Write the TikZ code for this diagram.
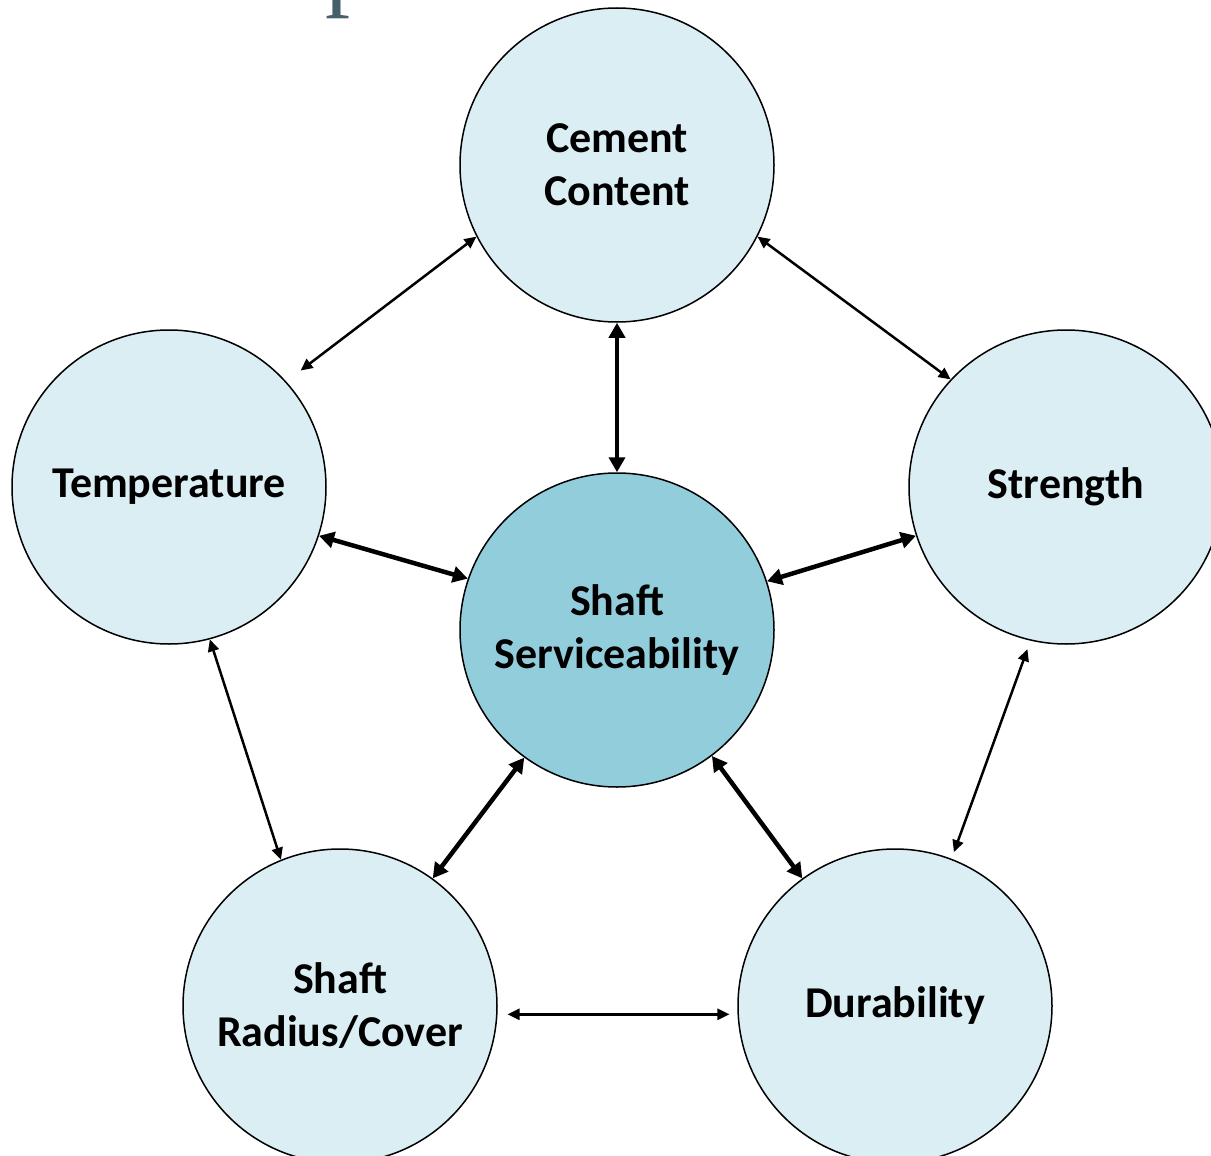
\documentclass[tikz,border=0pt]{standalone}
\usepackage{fontspec}
\setmainfont{Carlito}
\newfontfamily\titlefont{Liberation Serif}
\usetikzlibrary{arrows.meta}
\definecolor{lightblue}{HTML}{DAEEF3}
\definecolor{midblue}{HTML}{92CDDC}
\definecolor{slate}{HTML}{455F6B}
\begin{document}
\begin{tikzpicture}[x=1pt, y=-1pt,
        topic/.style={circle, draw, line width=1.5pt, minimum size=314pt, inner sep=0pt, align=center,
                      fill=lightblue, font=\fontsize{44}{53}\selectfont\bfseries},
        thin link/.style={{Triangle[length=12pt,width=11pt]}-{Triangle[length=12pt,width=11pt]}, line width=2.5pt},
        thick link/.style={{Triangle[length=15pt,width=16pt]}-{Triangle[length=15pt,width=16pt]}, line width=4.5pt}]
        \useasboundingbox (0,0) rectangle (1211,1156);

        \node (P) at (325,19) [anchor=south west, inner sep=0pt, text=slate, font=\fontsize{100}{100}\selectfont\titlefont] {p};

        \node (C) at ( 617, 165) [topic] {Cement\\Content};
        \node (T) at ( 169, 487) [topic] {Temperature};
        \node (S) at (1066, 487) [topic] {Strength};
        \node (M) at ( 617, 630) [topic, fill=midblue] {Shaft\\Serviceability};
        \node (R) at ( 340,1006) [topic] {Shaft\\Radius/Cover};
        \node (D) at ( 895,1006) [topic] {Durability};

        % C <-> T
        \draw[thin link, shorten >=18pt] (C.207) -- (T.42);
        % C <-> S
        \draw[thin link] (C.-27) -- (S.137);
        % C <-> M
        \draw[thick link] (C.south) -- (M.north);
        % T <-> M
        \draw[thick link] (T.-18) -- (M.161);
        % S <-> M
        \draw[thick link] (S.198) -- (M.18);
        % T <-> R
        \draw[thin link] (T.-75) -- (R.112);
        % S <-> D
        \draw[thin link, shorten <=9pt, shorten >=7pt] (S.-103) -- (D.69);
        % M <-> R
        \draw[thick link] (M.234) -- (R.54);
        % M <-> D
        \draw[thick link] (M.-53) -- (D.126);
        % R <-> D
        \draw[thin link, shorten <=10pt, shorten >=8pt] (R.-3.3) -- (D.183.3);
    \end{tikzpicture}
\end{document}
